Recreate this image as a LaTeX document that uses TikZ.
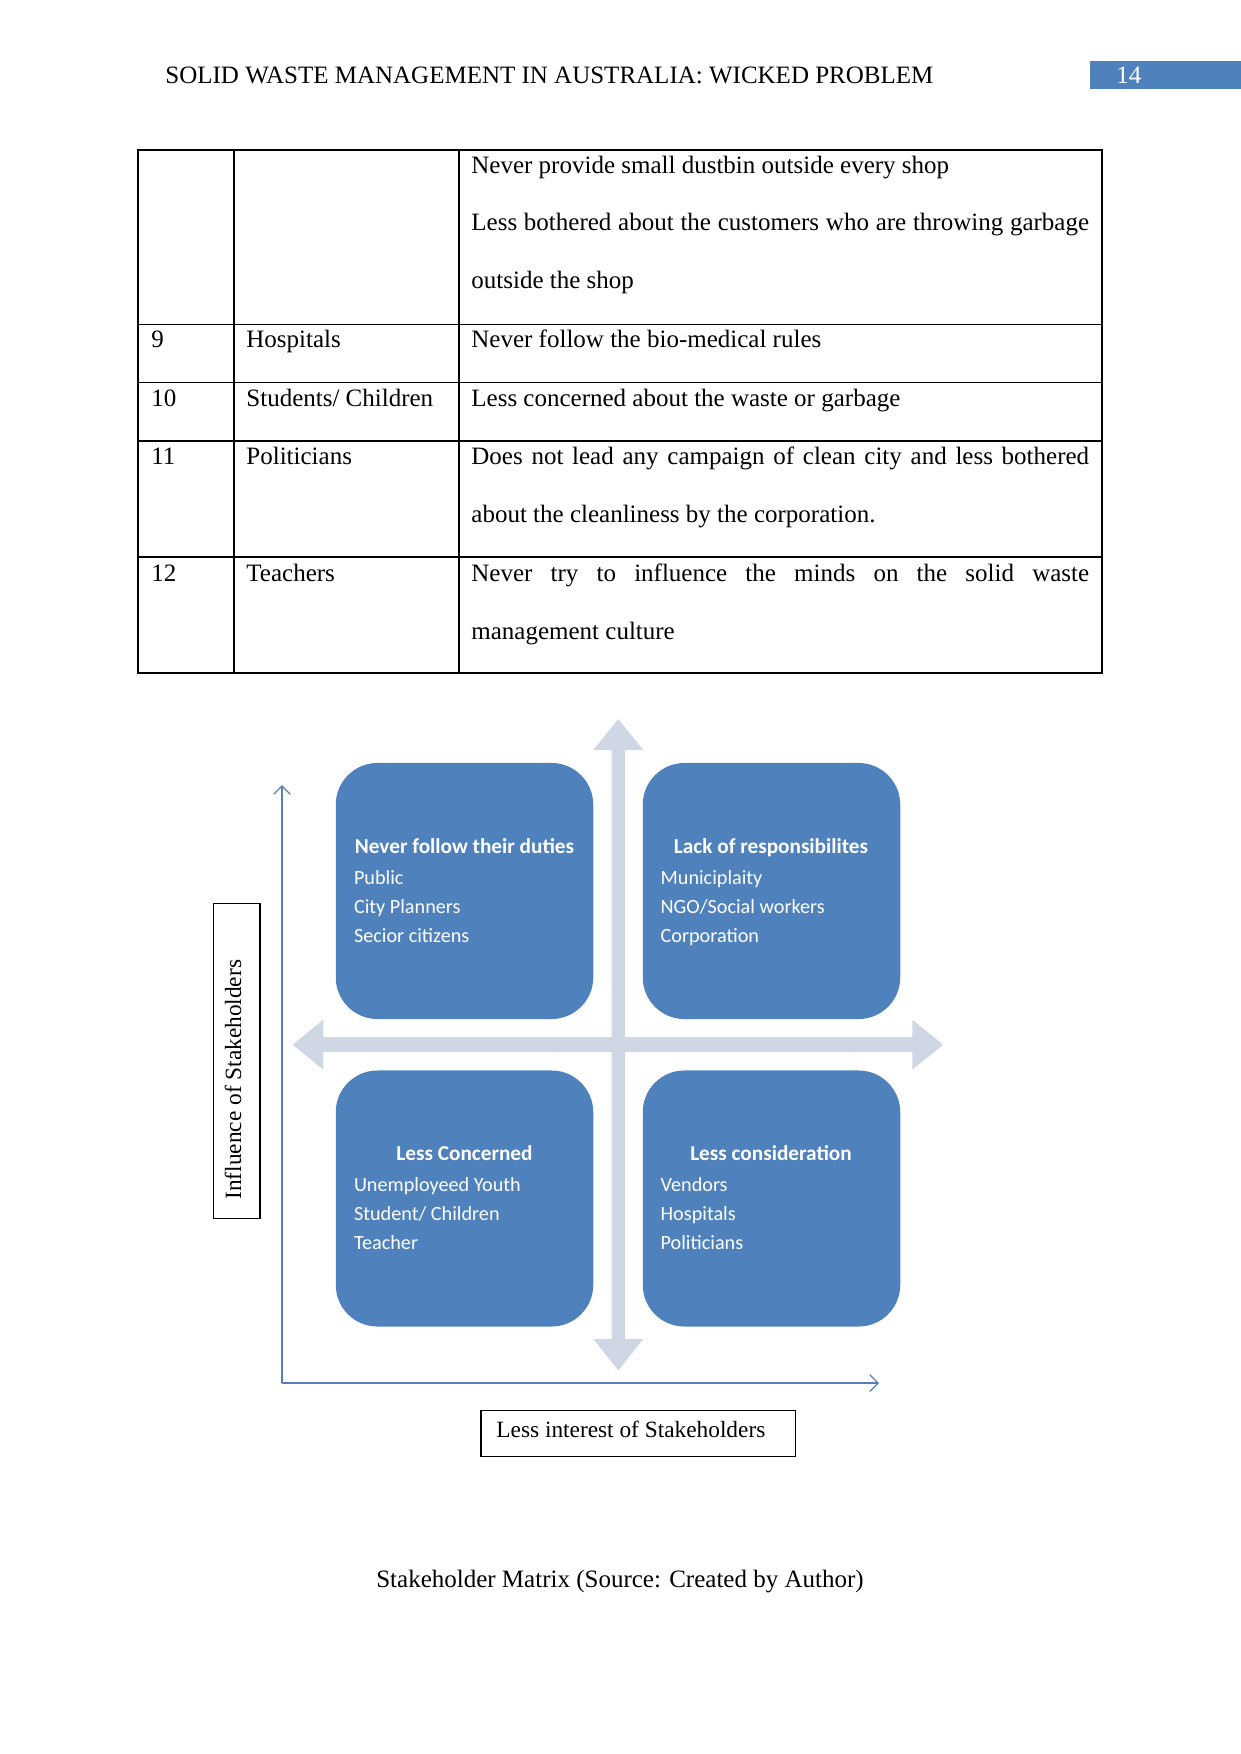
\documentclass[tikz,border=0pt]{standalone}
\usepackage{fontspec}
\setmainfont{Liberation Serif}
\newfontfamily\boxfont{Carlito}
\usetikzlibrary{arrows.meta}
\definecolor{boxblue}{RGB}{79,129,189}
\definecolor{crossblue}{RGB}{207,215,229}
\definecolor{axisblue}{RGB}{86,128,184}
\tikzset{
  txt/.style={anchor=base west, inner sep=0pt, font=\fontsize{12}{14}\selectfont},
  lbl/.style={anchor=base west, inner sep=0pt, font=\fontsize{11.2}{13}\selectfont},
  quad/.style={draw=none, fill=boxblue, rounded corners=20pt, minimum width=123.6pt, minimum height=122.9pt, inner sep=0pt},
  qtitle/.style={anchor=base, inner sep=0pt, text=white, font=\boxfont\bfseries\fontsize{10.2}{12}\selectfont},
  qitem/.style={anchor=base west, inner sep=0pt, text=white, font=\boxfont\fontsize{9.7}{12}\selectfont},
  rule/.style={line width=0.5pt, draw=black},
  axis/.style={line width=0.75pt, draw=axisblue, -{Straight Barb[length=4pt,width=8pt,line width=0.6pt]}}
}
\begin{document}
\begin{tikzpicture}[x=0.48pt,y=-0.48pt]
\useasboundingbox (0,0) rectangle (1241,1754);
% header
\node[txt] (hdr) at (165,83) {SOLID WASTE MANAGEMENT IN AUSTRALIA: WICKED PROBLEM};
\fill[boxblue] (1090,61) rectangle (1241,89);
\node[txt, text=white] (pg) at (1116,83) {14};
% table
\draw[rule] (138,150) rectangle (1102,673);
\draw[rule] (234,150) -- (234,673);
\draw[rule] (459,150) -- (459,673);
\draw[rule] (138,324.5) -- (1102,324.5);
\draw[rule] (138,382.7) -- (1102,382.7);
\draw[rule] (138,441) -- (1102,441);
\draw[rule] (138,557) -- (1102,557);
\node[txt] (r8a) at (471,173.6) {Never provide small dustbin outside every shop};
\node[txt] (r8b) at (471,230.7) {\makebox[296.5pt][s]{Less bothered about the customers who are throwing garbage}};
\node[txt] (r8c) at (471,288.9) {outside the shop};
\node[txt] (n9) at (151,347) {9};
\node[txt] (s9) at (246,347) {Hospitals};
\node[txt] (d9) at (471,347) {Never follow the bio-medical rules};
\node[txt] (n10) at (151,406) {10};
\node[txt] (s10) at (246,406) {Students/ Children};
\node[txt] (d10) at (471,406) {Less concerned about the waste or garbage};
\node[txt] (n11) at (151,464.5) {11};
\node[txt] (s11) at (246,464.5) {Politicians};
\node[txt] (d11a) at (471,464.5) {\makebox[296.5pt][s]{Does not lead any campaign of clean city and less bothered}};
\node[txt] (d11b) at (471,522.7) {about the cleanliness by the corporation.};
\node[txt] (n12) at (151,581) {12};
\node[txt] (s12) at (246,581) {Teachers};
\node[txt] (d12a) at (471,581) {\makebox[296.5pt][s]{Never try to influence the minds on the solid waste}};
\node[txt] (d12b) at (471,639) {management culture};
% cross arrows
\fill[crossblue] (618.3,719) -- (643.3,750) -- (625,750) -- (625,1339) -- (643.3,1339) -- (618.3,1370.5) -- (593.3,1339) -- (611.6,1339) -- (611.6,750) -- (593.3,750) -- cycle;
\fill[crossblue] (292.7,1044.7) -- (323.3,1019.7) -- (323.3,1037.2) -- (912.3,1037.2) -- (912.3,1019.7) -- (943.3,1044.7) -- (912.3,1069.7) -- (912.3,1052.2) -- (323.3,1052.2) -- (323.3,1069.7) -- cycle;
% quadrant boxes
\node[quad] (tl) at (464.5,891) {};
\node[quad] (tr) at (771.5,891) {};
\node[quad] (bl) at (464.5,1198.5) {};
\node[quad] (br) at (771.5,1198.5) {};
\node[qtitle] (tlt) at (464.5,853) {Never follow their duties};
\node[qitem] (tl1) at (353.6,884) {Public};
\node[qitem] (tl2) at (353.6,913.5) {City Planners};
\node[qitem] (tl3) at (353.6,942.5) {Secior citizens};
\node[qtitle] (trt) at (771,853) {Lack of responsibilites};
\node[qitem] (tr1) at (660.2,884) {Municiplaity};
\node[qitem] (tr2) at (660.2,913.5) {NGO/Social workers};
\node[qitem] (tr3) at (660.2,942.5) {Corporation};
\node[qtitle] (blt) at (464.5,1160) {Less Concerned};
\node[qitem] (bl1) at (353.6,1191) {Unemployeed Youth};
\node[qitem] (bl2) at (353.6,1220) {Student/ Children};
\node[qitem] (bl3) at (353.6,1249) {Teacher};
\node[qtitle] (brt) at (771,1160) {Less consideration};
\node[qitem] (br1) at (660.2,1191) {Vendors};
\node[qitem] (br2) at (660.2,1220) {Hospitals};
\node[qitem] (br3) at (660.2,1249) {Politicians};
% axes
\coordinate (org) at (282,1383);
\coordinate (ytip) at (282,785);
\coordinate (xtip) at (879,1383);
\draw[axis] (org) -- (ytip);
\draw[axis] (org) -- (xtip);
% axis labels
\node[draw=black, line width=0.6pt, minimum width=22.4pt, minimum height=151.2pt, inner sep=0pt] (ylab) at (236.7,1060.8) {};
\node[lbl, rotate=90] (ylabt) at (241,1200) {Influence of Stakeholders};
\node[draw=black, line width=0.6pt, minimum width=151pt, minimum height=22.4pt, inner sep=0pt] (xlab) at (638.3,1433.5) {};
\node[lbl] (xlabt) at (496,1437) {Less interest of Stakeholders};
% caption
\node[anchor=base, inner sep=0pt, font=\fontsize{12}{14}\selectfont] (cap) at (620,1587) {Stakeholder Matrix (Source: Created by Author)};
\end{tikzpicture}
\end{document}
